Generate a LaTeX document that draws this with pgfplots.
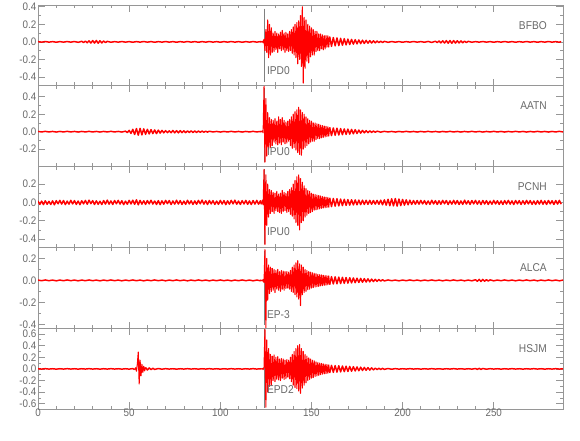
\documentclass[border=0pt]{standalone}
\usepackage{pgfplots}
\pgfplotsset{compat=1.18}
\usepackage{fontspec}
\setmainfont[FakeStretch=0.9]{Liberation Sans}
\definecolor{axgray}{RGB}{150,150,150}
\definecolor{txtgray}{RGB}{105,105,105}
\pgfplotsset{
  seis/.style={
    scale only axis, width=393.75pt, height=60.6pt,
    xmin=0, xmax=288, anchor=south west,
    axis line style={axgray, line width=0.5pt},
    every tick/.style={axgray, line width=0.5pt},
    tick align=inside, major tick length=5pt, minor tick length=2.5pt,
    xtick={0,50,100,150,200,250}, minor x tick num=4,
    xticklabels={},
    minor y tick num=1,
    /pgf/number format/assume math mode=true,
    tick label style={font=\fontsize{8.2}{8.2}\selectfont, text=txtgray, inner ysep=0pt},
    yticklabel style={/pgf/number format/.cd, fixed, fixed zerofill, precision=1, /tikz/.cd, inner xsep=1pt},
  },
  seisthin/.style={draw=red, line width=0.8pt, line join=round, mark=none},
  seisthick/.style={draw=red, line width=1.1pt, line join=round, mark=none},
  seispick/.style={draw=black!50, line width=0.7pt, mark=none},
}
\newcommand{\stalabel}[1]{\node[anchor=east, font=\fontsize{8.5}{8.5}\selectfont, text=txtgray] at (rel axis cs:0.978,0.75) {#1};}
\newcommand{\picklabel}[2]{\node[anchor=west, font=\fontsize{8.5}{8.5}\selectfont, text=txtgray, inner sep=1pt] at (axis cs:124.8,#2) {#1};}
\begin{document}
\begin{tikzpicture}
\path[use as bounding box] (-28.5pt,-23.25pt) rectangle (406.5pt,306.75pt);

% ---------------- Panel 1: BFBO
\begin{axis}[seis, at={(0pt,242.4pt)}, ymin=-0.50, ymax=0.42, ytick={-0.4,-0.2,0,0.2,0.4}]
\addplot[seispick] coordinates {(124,0.38) (124,-0.46)};
\addplot[seisthick] coordinates {
(0,0.003)(2,-0.003)(4,0.004)(6,-0.003)(8,0.003)(10,-0.004)(12,0.003)(14,-0.003)(16,0.004)(18,-0.003)(20,0.004)(22,-0.005)(24,0.006)
(25,-0.007)(26,0.008)(27,-0.01)(28,0.012)(29,-0.013)(30,0.015)(31,-0.014)(32,0.016)(33,-0.015)(34,0.013)(35,-0.012)(36,0.01)(37,-0.008)(38,0.006)
(40,-0.004)(42,0.003)(44,-0.003)(46,0.004)(48,-0.003)(50,0.003)(52,-0.004)(54,0.003)(56,-0.003)(58,0.004)(60,-0.003)(62,0.003)(64,-0.004)(66,0.003)(68,-0.003)(70,0.004)(72,-0.003)(74,0.003)(76,-0.004)(78,0.003)(80,-0.003)(82,0.004)(84,-0.003)(86,0.003)(88,-0.004)(90,0.003)(92,-0.003)(94,0.004)(96,-0.003)(98,0.003)(100,-0.004)(102,0.003)(104,-0.003)(106,0.004)(108,-0.003)(110,0.003)(112,-0.004)(114,0.003)(116,-0.003)(118,0.004)(120,-0.003)(122,0.003)(122.5,-0.004)
};
\addplot[seisthin] coordinates {
(122.5,-0.004)(123,0.008)(123.5,-0.01)(124,0.03)(124.5,-0.1)(125,0.14)(125.5,-0.12)(126,0.25)(126.5,-0.18)(127,0.2)(127.5,-0.15)(128,0.16)(128.5,-0.12)(129,0.1)(129.5,-0.11)(130,0.12)(130.5,-0.09)(131,0.1)(131.5,-0.12)(132,0.09)(132.5,-0.08)(133,0.11)(133.5,-0.1)(134,0.13)(134.5,-0.09)(135,0.1)(135.5,-0.12)(136,0.11)(136.5,-0.1)(137,0.09)(137.5,-0.11)(138,0.12)(138.5,-0.1)(139,0.14)(139.5,-0.13)(140,0.17)(140.5,-0.15)(141,0.2)(141.5,-0.18)(142,0.22)(142.5,-0.25)(143,0.24)(143.5,-0.2)(144,0.3)(144.5,-0.28)(145,0.4)(145.5,-0.47)(146,0.28)(146.5,-0.3)(147,0.25)(147.5,-0.22)(148,0.2)(148.5,-0.24)(149,0.18)(149.5,-0.17)(150,0.16)(150.5,-0.15)(151,0.14)(151.5,-0.15)(152,0.12)(152.5,-0.11)(153,0.12)(153.5,-0.1)(154,0.09)(154.5,-0.1)(155,0.09)(155.5,-0.08)(156,0.08)(156.5,-0.09)(157,0.07)(157.5,-0.08)(158,0.07)(158.5,-0.06)(159,0.07)(159.5,-0.06)(160,0.06)
};
\addplot[seisthick] coordinates {
(160,0.06)(161,-0.05)(162,0.05)(163,-0.045)(164,0.045)(165,-0.042)(166,0.04)(167,-0.038)(168,0.036)(169,-0.034)(170,0.032)(171,-0.03)(172,0.028)(173,-0.026)(174,0.025)(175,-0.023)(176,0.022)(177,-0.02)(178,0.019)(179,-0.018)(180,0.017)(181,-0.015)(182,0.014)(183,-0.013)(184,0.012)(185,-0.011)(186,0.01)(187,-0.009)(188,0.008)(189,-0.007)(190,0.006)
(192,-0.005)(194,0.004)(196,-0.003)(198,0.003)(200,-0.004)(202,0.003)(204,-0.003)(206,0.004)(208,-0.003)(210,0.003)(212,-0.004)(214,0.005)(216,-0.006)(218,0.007)(219,-0.008)(220,0.01)(221,-0.011)(222,0.012)(223,-0.013)(224,0.014)(225,-0.015)(226,0.015)(227,-0.016)(228,0.015)(229,-0.014)(230,0.013)(231,-0.012)(232,0.011)(233,-0.01)(234,0.008)(235,-0.007)(236,0.006)(238,-0.004)(240,0.003)(242,-0.003)(244,0.004)(246,-0.003)(248,0.003)(250,-0.004)(252,0.003)(254,-0.003)(256,0.004)(258,-0.003)(260,0.003)(262,-0.004)(264,0.003)(266,-0.003)(268,0.004)(270,-0.003)(272,0.003)(274,-0.004)(276,0.003)(278,-0.003)(280,0.004)(282,-0.003)(284,0.003)(286,-0.004)(287,0.003)
};
\stalabel{BFBO}
\picklabel{IPD0}{-0.33}
\end{axis}

% ---------------- Panel 2: AATN
\begin{axis}[seis, at={(0pt,181.8pt)}, ymin=-0.40, ymax=0.526, ytick={-0.2,0,0.2,0.4}]
\addplot[seispick] coordinates {(124,0.5) (124,-0.35)};
\addplot[seisthick] coordinates {
(0,0.003)(2,-0.003)(4,0.004)(6,-0.003)(8,0.003)(10,-0.004)(12,0.003)(14,-0.003)(16,0.004)(18,-0.003)(20,0.003)(22,-0.004)(24,0.003)(26,-0.003)(28,0.004)(30,-0.003)(32,0.003)(34,-0.004)(36,0.003)(38,-0.003)(40,0.004)(42,-0.003)(44,0.003)(46,-0.004)(48,0.006)
(49,-0.01)(50,0.015)(51,-0.02)(52,0.027)(53,-0.032)(54,0.036)(55,-0.04)(56,0.038)(57,-0.036)(58,0.033)(59,-0.03)(60,0.028)(61,-0.026)(62,0.024)(63,-0.022)(64,0.02)(65,-0.022)(66,0.018)(67,-0.016)(68,0.015)(69,-0.013)(70,0.012)(71,-0.011)(72,0.01)
(73,-0.012)(74,0.014)(75,-0.013)(76,0.012)(77,-0.013)(78,0.012)(79,-0.011)(80,0.01)(81,-0.011)(82,0.01)(83,-0.009)(84,0.01)(85,-0.009)(86,0.008)(87,-0.009)(88,0.008)(89,-0.007)(90,0.007)(91,-0.006)(92,0.006)(93,-0.005)(94,0.005)
(96,-0.003)(98,0.003)(100,-0.004)(102,0.003)(104,-0.003)(106,0.004)(108,-0.003)(110,0.003)(112,-0.004)(114,0.003)(116,-0.003)(118,0.004)(120,-0.003)(122,0.003)(122.5,-0.004)
};
\addplot[seisthin] coordinates {
(122.5,-0.004)(123,0.009)(123.5,-0.012)(124,0.52)(124.5,-0.35)(125,0.38)(125.5,-0.28)(126,0.22)(126.5,-0.2)(127,0.16)(127.5,-0.18)(128,0.14)(128.5,-0.16)(129,0.13)(129.5,-0.12)(130,0.15)(130.5,-0.14)(131,0.12)(131.5,-0.15)(132,0.17)(132.5,-0.13)(133,0.14)(133.5,-0.15)(134,0.16)(134.5,-0.12)(135,0.13)(135.5,-0.14)(136,0.11)(136.5,-0.13)(137,0.12)(137.5,-0.11)(138,0.14)(138.5,-0.16)(139,0.17)(139.5,-0.19)(140,0.2)(140.5,-0.18)(141,0.23)(141.5,-0.21)(142,0.25)(142.5,-0.24)(143,0.28)(143.5,-0.26)(144,0.25)(144.5,-0.27)(145,0.22)(145.5,-0.2)(146,0.2)(146.5,-0.18)(147,0.17)(147.5,-0.16)(148,0.15)(148.5,-0.14)(149,0.13)(149.5,-0.12)(150,0.12)(150.5,-0.11)(151,0.1)(151.5,-0.11)(152,0.1)(152.5,-0.09)(153,0.09)(153.5,-0.08)(154,0.085)(154.5,-0.08)(155,0.075)(155.5,-0.07)(156,0.07)(156.5,-0.065)(157,0.065)(157.5,-0.06)(158,0.06)(158.5,-0.055)(159,0.055)(159.5,-0.05)(160,0.05)
};
\addplot[seisthick] coordinates {
(160,0.05)(161,-0.045)(162,0.043)(163,-0.041)(164,0.04)(165,-0.038)(166,0.036)(167,-0.034)(168,0.032)(169,-0.031)(170,0.03)(171,-0.028)(172,0.026)(173,-0.024)(174,0.023)(175,-0.021)(176,0.019)(177,-0.017)(178,0.015)(179,-0.013)(180,0.012)(181,-0.011)(182,0.01)(183,-0.009)(184,0.008)(185,-0.007)(186,0.006)(188,-0.005)(190,0.004)
(192,-0.003)(194,0.003)(196,-0.004)(198,0.003)(200,-0.003)(202,0.004)(204,-0.003)(206,0.003)(208,-0.004)(210,0.003)(212,-0.003)(214,0.004)(216,-0.003)(218,0.003)(220,-0.004)(222,0.003)(224,-0.003)(226,0.004)(228,-0.003)(230,0.003)(232,-0.004)(234,0.003)(236,-0.003)(238,0.004)(240,-0.003)(242,0.003)(244,-0.004)(246,0.003)(248,-0.003)(250,0.004)(252,-0.003)(254,0.003)(256,-0.004)(258,0.003)(260,-0.003)(262,0.004)(264,-0.003)(266,0.003)(268,-0.004)(270,0.003)(272,-0.003)(274,0.004)(276,-0.003)(278,0.003)(280,-0.004)(282,0.003)(284,-0.003)(286,0.004)(288,-0.003)
};
\stalabel{AATN}
\picklabel{IPU0}{-0.23}
\end{axis}

% ---------------- Panel 3: PCNH
\begin{axis}[seis, at={(0pt,121.2pt)}, ymin=-0.49, ymax=0.39, ytick={-0.4,-0.2,0,0.2}]
\addplot[seispick] coordinates {(124,0.36) (124,-0.45)};
\addplot[seisthick] coordinates {
(0,0.016)(1,-0.022)(2,0.014)(3,-0.024)(4,0.018)(5,-0.02)(6,0.012)(7,-0.022)(8,0.017)(9,-0.026)(10,0.019)(11,-0.015)(12,0.022)(13,-0.018)(14,0.021)(15,-0.024)(16,0.014)(17,-0.019)(18,0.023)(19,-0.017)(20,0.02)(21,-0.022)(22,0.015)(23,-0.025)(24,0.018)(25,-0.016)(26,0.022)(27,-0.02)(28,0.024)(29,-0.014)(30,0.019)(31,-0.022)(32,0.017)(33,-0.021)(34,0.013)(35,-0.023)(36,0.02)(37,-0.018)(38,0.025)(39,-0.019)(40,0.016)(41,-0.022)(42,0.021)(43,-0.015)(44,0.022)(45,-0.018)(46,0.018)(47,-0.024)(48,0.014)(49,-0.02)(50,0.022)(51,-0.017)(52,0.024)(53,-0.021)(54,0.028)(55,-0.026)(56,0.022)(57,-0.019)(58,0.018)(59,-0.022)(60,0.02)(61,-0.016)(62,0.023)(63,-0.018)(64,0.015)(65,-0.022)(66,0.019)(67,-0.024)(68,0.017)(69,-0.02)(70,0.022)(71,-0.014)(72,0.021)(73,-0.023)(74,0.016)(75,-0.019)(76,0.024)(77,-0.018)(78,0.02)(79,-0.022)(80,0.014)(81,-0.021)(82,0.023)(83,-0.017)(84,0.018)(85,-0.022)(86,0.016)(87,-0.02)(88,0.022)(89,-0.015)(90,0.025)(91,-0.019)(92,0.018)(93,-0.023)(94,0.021)(95,-0.016)(96,0.019)(97,-0.022)(98,0.014)(99,-0.021)(100,0.022)(101,-0.018)(102,0.02)(103,-0.024)(104,0.017)(105,-0.019)(106,0.022)(107,-0.016)(108,0.024)(109,-0.02)(110,0.015)(111,-0.022)(112,0.019)(113,-0.017)(114,0.022)(115,-0.021)(116,0.016)(117,-0.023)(118,0.02)(119,-0.018)(120,0.022)(121,-0.019)(122,0.017)(122.5,-0.02)
};
\addplot[seisthin] coordinates {
(122.5,-0.02)(123,0.022)(123.5,-0.026)(124,0.36)(124.5,-0.46)(125,0.3)(125.5,-0.25)(126,0.2)(126.5,-0.16)(127,0.14)(127.5,-0.12)(128,0.13)(128.5,-0.1)(129,0.11)(129.5,-0.12)(130,0.1)(130.5,-0.09)(131,0.12)(131.5,-0.1)(132,0.09)(132.5,-0.11)(133,0.1)(133.5,-0.12)(134,0.13)(134.5,-0.1)(135,0.11)(135.5,-0.09)(136,0.1)(136.5,-0.11)(137,0.12)(137.5,-0.1)(138,0.14)(138.5,-0.13)(139,0.16)(139.5,-0.15)(140,0.2)(140.5,-0.18)(141,0.24)(141.5,-0.22)(142,0.28)(142.5,-0.25)(143,0.3)(143.5,-0.3)(144,0.26)(144.5,-0.22)(145,0.22)(145.5,-0.2)(146,0.18)(146.5,-0.16)(147,0.15)(147.5,-0.14)(148,0.13)(148.5,-0.12)(149,0.12)(149.5,-0.11)(150,0.1)(150.5,-0.1)(151,0.09)(151.5,-0.085)(152,0.085)(152.5,-0.08)(153,0.08)(153.5,-0.075)(154,0.075)(154.5,-0.07)(155,0.07)(155.5,-0.065)(156,0.065)(156.5,-0.06)(157,0.06)(157.5,-0.058)(158,0.056)(158.5,-0.055)(159,0.054)(159.5,-0.052)(160,0.05)
};
\addplot[seisthick] coordinates {
(160,0.05)(161,-0.045)(162,0.043)(163,-0.041)(164,0.04)(165,-0.038)(166,0.036)(167,-0.035)(168,0.034)(169,-0.032)(170,0.031)(171,-0.03)(172,0.029)(173,-0.028)(174,0.027)(175,-0.026)(176,0.025)(177,-0.024)(178,0.024)(179,-0.022)(180,0.023)(181,-0.021)(182,0.022)(183,-0.02)(184,0.021)(185,-0.019)(186,0.022)(187,-0.02)(188,0.024)(189,-0.026)(190,0.028)(191,-0.03)(192,0.034)(193,-0.036)(194,0.04)(195,-0.038)(196,0.042)(197,-0.04)(198,0.037)(199,-0.035)(200,0.032)(201,-0.03)(202,0.028)(203,-0.026)(204,0.024)(205,-0.022)(206,0.021)(207,-0.02)
(208,0.021)(209,-0.019)(210,0.022)(211,-0.017)(212,0.02)(213,-0.022)(214,0.016)(215,-0.021)(216,0.023)(217,-0.017)(218,0.019)(219,-0.022)(220,0.018)(221,-0.02)(222,0.022)(223,-0.015)(224,0.021)(225,-0.023)(226,0.017)(227,-0.019)(228,0.022)(229,-0.018)(230,0.02)(231,-0.022)(232,0.016)(233,-0.021)(234,0.024)(235,-0.018)(236,0.018)(237,-0.022)(238,0.02)(239,-0.016)(240,0.022)(241,-0.019)(242,0.017)(243,-0.023)(244,0.021)(245,-0.018)(246,0.019)(247,-0.022)(248,0.015)(249,-0.02)(250,0.022)(251,-0.017)(252,0.018)(253,-0.021)(254,0.016)(255,-0.022)(256,0.02)(257,-0.018)(258,0.022)(259,-0.019)(260,0.017)(261,-0.023)(262,0.021)(263,-0.016)(264,0.019)(265,-0.022)(266,0.018)(267,-0.02)(268,0.022)(269,-0.017)(270,0.02)(271,-0.021)(272,0.016)(273,-0.022)(274,0.019)(275,-0.018)(276,0.022)(277,-0.02)(278,0.017)(279,-0.022)(280,0.021)(281,-0.016)(282,0.018)(283,-0.022)(284,0.02)(285,-0.018)(286,0.022)(287,-0.019)
};
\stalabel{PCNH}
\picklabel{IPU0}{-0.32}
\end{axis}

% ---------------- Panel 4: ALCA
\begin{axis}[seis, at={(0pt,60.6pt)}, ymin=-0.435, ymax=0.30, ytick={-0.4,-0.2,0,0.2}]
\addplot[seispick] coordinates {(124.3,0.27) (124.3,-0.41)};
\addplot[seisthick] coordinates {
(0,0.003)(2,-0.003)(4,0.004)(6,-0.003)(8,0.003)(10,-0.004)(12,0.003)(14,-0.003)(16,0.004)(18,-0.003)(20,0.003)(22,-0.004)(24,0.003)(26,-0.003)(28,0.004)(30,-0.003)(32,0.003)(34,-0.004)(36,0.003)(38,-0.003)(40,0.004)(42,-0.003)(44,0.003)(46,-0.004)(48,0.003)(50,-0.003)(52,0.004)(54,-0.003)(56,0.003)(58,-0.004)(60,0.003)(62,-0.003)(64,0.004)(66,-0.003)(68,0.003)(70,-0.004)(72,0.003)(74,-0.003)(76,0.004)(78,-0.003)(80,0.003)(82,-0.004)(84,0.003)(86,-0.003)(88,0.004)(90,-0.003)(92,0.003)(94,-0.004)(96,0.003)(98,-0.003)(100,0.004)(102,-0.003)(104,0.003)(106,-0.004)(108,0.003)(110,-0.003)(112,0.004)(114,-0.003)(116,0.003)(118,-0.004)(120,0.003)(122,-0.003)(122.5,0.004)
};
\addplot[seisthin] coordinates {
(122.5,0.004)(123,-0.006)(123.5,0.008)(124,-0.02)(124.5,0.28)(125,-0.43)(125.5,0.2)(126,-0.18)(126.5,0.14)(127,-0.12)(127.5,0.12)(128,-0.1)(128.5,0.11)(129,-0.09)(129.5,0.1)(130,-0.11)(130.5,0.09)(131,-0.08)(131.5,0.1)(132,-0.09)(132.5,0.08)(133,-0.1)(133.5,0.09)(134,-0.08)(134.5,0.085)(135,-0.09)(135.5,0.08)(136,-0.075)(136.5,0.08)(137,-0.07)(137.5,0.075)(138,-0.08)(138.5,0.09)(139,-0.1)(139.5,0.12)(140,-0.11)(140.5,0.14)(141,-0.13)(141.5,0.16)(142,-0.15)(142.5,0.18)(143,-0.17)(143.5,0.15)(144,-0.23)(144.5,0.14)(145,-0.13)(145.5,0.12)(146,-0.11)(146.5,0.1)(147,-0.1)(147.5,0.09)(148,-0.085)(148.5,0.08)(149,-0.08)(149.5,0.075)(150,-0.07)(150.5,0.07)(151,-0.065)(151.5,0.065)(152,-0.06)(152.5,0.06)(153,-0.058)(153.5,0.055)(154,-0.055)(154.5,0.052)(155,-0.05)(155.5,0.05)(156,-0.048)(156.5,0.046)(157,-0.045)(157.5,0.044)(158,-0.043)(158.5,0.042)(159,-0.04)(159.5,0.04)(160,-0.039)
};
\addplot[seisthick] coordinates {
(160,-0.039)(161,0.034)(162,-0.033)(163,0.032)(164,-0.031)(165,0.03)(166,-0.029)(167,0.028)(168,-0.027)(169,0.026)(170,-0.025)(171,0.024)(172,-0.023)(173,0.022)(174,-0.021)(175,0.02)(176,-0.019)(177,0.018)(178,-0.017)(179,0.016)(180,-0.015)(181,0.014)(182,-0.013)(183,0.012)(184,-0.011)(185,0.01)(186,-0.009)(187,0.008)(188,-0.007)(189,0.006)(190,-0.005)
(192,0.004)(194,-0.003)(196,0.003)(198,-0.004)(200,0.003)(202,-0.003)(204,0.004)(206,-0.003)(208,0.003)(210,-0.004)(212,0.003)(214,-0.003)(216,0.004)(218,-0.003)(220,0.003)(222,-0.004)(224,0.003)(226,-0.003)(228,0.004)(230,-0.003)(232,0.003)(234,-0.004)(236,0.003)(238,-0.004)(240,0.006)(241,-0.008)(242,0.009)(243,-0.01)(244,0.009)(245,-0.008)(246,0.007)(247,-0.006)(248,0.005)(250,-0.004)(252,0.003)(254,-0.003)(256,0.004)(258,-0.003)(260,0.003)(262,-0.004)(264,0.003)(266,-0.003)(268,0.004)(270,-0.003)(272,0.003)(274,-0.004)(276,0.003)(278,-0.003)(280,0.004)(282,-0.003)(284,0.003)(286,-0.004)(288,0.003)
};
\stalabel{ALCA}
\picklabel{EP-3}{-0.31}
\end{axis}

% ---------------- Panel 5: HSJM
\begin{axis}[seis, at={(0pt,0pt)}, ymin=-0.69, ymax=0.70, ytick={-0.6,-0.4,-0.2,0,0.2,0.4,0.6},
  xticklabels={0,50,100,150,200,250}]
\addplot[seispick] coordinates {(124.3,0.68) (124.3,-0.67)};
\addplot[seisthick] coordinates {
(0,0.003)(2,-0.003)(4,0.004)(6,-0.003)(8,0.003)(10,-0.004)(12,0.003)(14,-0.003)(16,0.004)(18,-0.003)(20,0.003)(22,-0.004)(24,0.003)(26,-0.003)(28,0.004)(30,-0.003)(32,0.003)(34,-0.004)(36,0.003)(38,-0.003)(40,0.004)(42,-0.003)(44,0.003)(46,-0.004)(48,0.003)(50,-0.004)(52,0.006)(53,-0.012)
};
\addplot[seisthin] coordinates {
(53,-0.012)(53.5,0.02)(54,-0.04)(54.5,0.08)(55,0.29)(55.5,-0.26)(56,0.15)(56.5,-0.12)(57,0.08)(57.5,-0.06)(58,0.045)(58.5,-0.035)(59,0.025)
};
\addplot[seisthick] coordinates {
(59,0.025)(60,-0.02)(61,0.016)(62,-0.013)(63,0.011)(64,-0.009)(66,0.007)(68,-0.005)(70,0.004)
(72,-0.003)(74,0.003)(76,-0.004)(78,0.003)(80,-0.003)(82,0.004)(84,-0.003)(86,0.003)(88,-0.004)(90,0.003)(92,-0.003)(94,0.004)(96,-0.003)(98,0.003)(100,-0.004)(102,0.003)(104,-0.003)(106,0.004)(108,-0.003)(110,0.003)(112,-0.004)(114,0.003)(116,-0.003)(118,0.004)(120,-0.003)(122,0.003)(122.5,-0.004)
};
\addplot[seisthin] coordinates {
(122.5,-0.004)(123,0.009)(123.5,-0.012)(124,0.03)(124.5,0.68)(125,-0.66)(125.5,0.5)(126,-0.4)(126.5,0.35)(127,-0.3)(127.5,0.25)(128,-0.28)(128.5,0.22)(129,-0.2)(129.5,0.24)(130,-0.22)(130.5,0.2)(131,-0.18)(131.5,0.21)(132,-0.19)(132.5,0.17)(133,-0.2)(133.5,0.18)(134,-0.16)(134.5,0.17)(135,-0.18)(135.5,0.15)(136,-0.17)(136.5,0.16)(137,-0.14)(137.5,0.15)(138,-0.17)(138.5,0.2)(139,-0.22)(139.5,0.25)(140,-0.28)(140.5,0.3)(141,-0.32)(141.5,0.35)(142,-0.34)(142.5,0.4)(143,-0.38)(143.5,0.42)(144,-0.42)(144.5,0.35)(145,-0.33)(145.5,0.3)(146,-0.28)(146.5,0.25)(147,-0.24)(147.5,0.22)(148,-0.2)(148.5,0.19)(149,-0.18)(149.5,0.17)(150,-0.16)(150.5,0.15)(151,-0.15)(151.5,0.14)(152,-0.13)(152.5,0.12)(153,-0.12)(153.5,0.11)(154,-0.11)(154.5,0.1)(155,-0.1)(155.5,0.095)(156,-0.09)(156.5,0.085)(157,-0.085)(157.5,0.08)(158,-0.08)(158.5,0.075)(159,-0.075)(159.5,0.07)(160,-0.07)
};
\addplot[seisthick] coordinates {
(160,-0.07)(161,0.062)(162,-0.06)(163,0.058)(164,-0.056)(165,0.054)(166,-0.052)(167,0.05)(168,-0.048)(169,0.046)(170,-0.044)(171,0.042)(172,-0.04)(173,0.038)(174,-0.036)(175,0.034)(176,-0.032)(177,0.03)(178,-0.028)(179,0.026)(180,-0.024)(181,0.022)(182,-0.02)(183,0.018)(184,-0.016)(185,0.014)(186,-0.012)(187,0.011)(188,-0.01)(189,0.009)(190,-0.008)(192,0.007)(194,-0.006)(196,0.005)(198,-0.004)(200,0.003)
(202,-0.003)(204,0.004)(206,-0.003)(208,0.003)(210,-0.004)(212,0.003)(214,-0.003)(216,0.004)(218,-0.003)(220,0.003)(222,-0.004)(224,0.003)(226,-0.003)(228,0.004)(230,-0.003)(232,0.003)(234,-0.004)(236,0.003)(238,-0.004)(240,0.006)(241,-0.008)(242,0.009)(243,-0.008)(244,0.007)(246,-0.005)(248,0.004)(250,-0.003)(252,0.003)(254,-0.004)(256,0.003)(258,-0.003)(260,0.004)(262,-0.003)(264,0.003)(266,-0.004)(268,0.003)(270,-0.003)(272,0.004)(274,-0.003)(276,0.003)(278,-0.004)(280,0.003)(282,-0.003)(284,0.004)(286,-0.003)(288,0.003)
};
\stalabel{HSJM}
\picklabel{EPD2}{-0.36}
\end{axis}
\end{tikzpicture}
\end{document}
